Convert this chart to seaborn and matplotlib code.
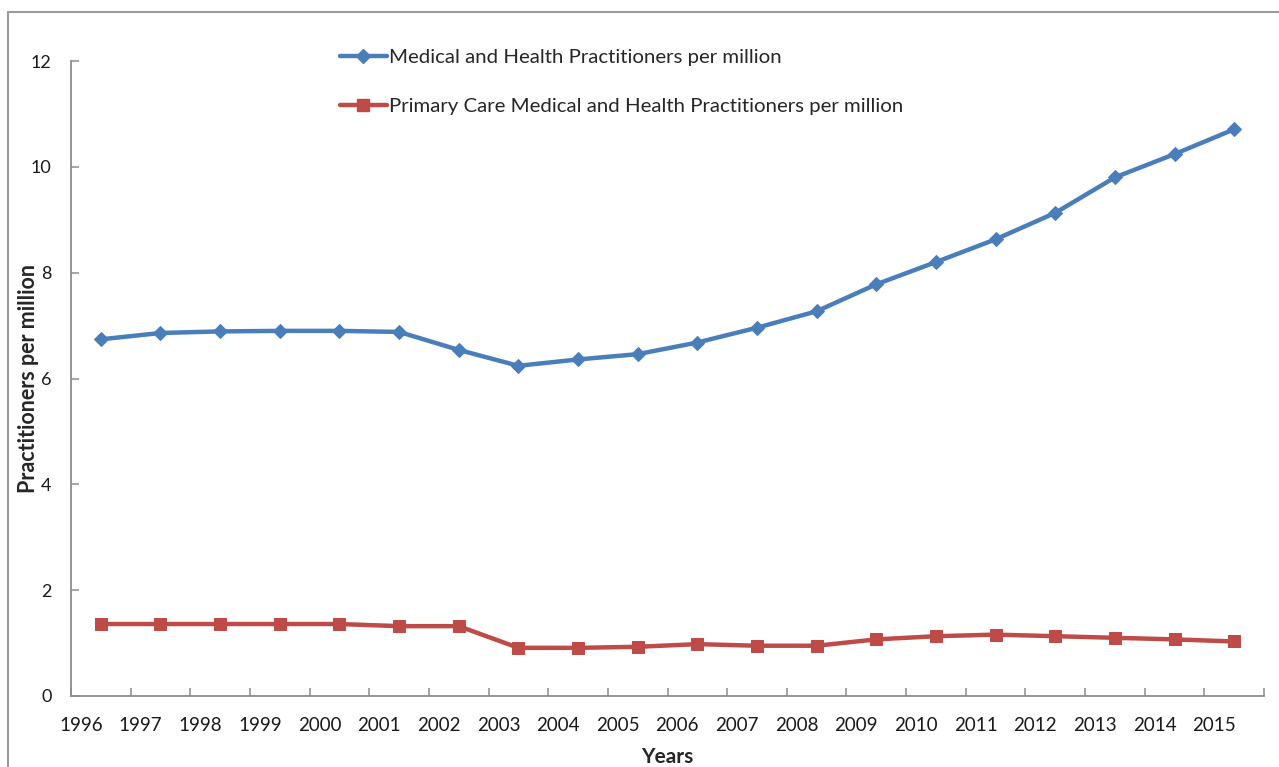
import matplotlib
matplotlib.use("Agg")
import matplotlib.pyplot as plt
import matplotlib.transforms as mtransforms
from matplotlib.lines import Line2D
import seaborn as sns
import pandas as pd
import numpy as np

years = ["1996", "1997", "1998", "1999", "2000", "2001", "2002", "2003", "2004", "2005",
         "2006", "2007", "2008", "2009", "2010", "2011", "2012", "2013", "2014", "2015"]
total_practitioners = [6.74, 6.86, 6.89, 6.90, 6.90, 6.88, 6.54, 6.24, 6.36, 6.46,
                       6.68, 6.96, 7.27, 7.78, 8.20, 8.63, 9.13, 9.80, 10.24, 10.71]
primary_care = [1.36, 1.36, 1.36, 1.36, 1.36, 1.32, 1.32, 0.91, 0.91, 0.93,
                0.98, 0.95, 0.95, 1.07, 1.13, 1.16, 1.13, 1.10, 1.07, 1.03]
series_names = ["Medical and Health Practitioners per million",
                "Primary Care Medical and Health Practitioners per million"]
y_ticks = [0, 2, 4, 6, 8, 10, 12]

sns.set_theme(style="white")
plt.rcParams['font.family'] = ['Lato', 'DejaVu Sans']

df = pd.DataFrame({
    "pos": list(range(len(years))) * 2,
    "value": total_practitioners + primary_care,
    "series": [series_names[0]] * len(years) + [series_names[1]] * len(years),
})

fig = plt.figure(figsize=(12.79, 7.67), dpi=100)
ax = fig.add_axes([71 / 1279, 1 - 696 / 767, 1193 / 1279, 635 / 767])

blue = "#4A7EBB"
red = "#BE4B48"
sns.lineplot(data=df[df.series == series_names[0]], x="pos", y="value", ax=ax,
             color=blue, linewidth=3.2, marker="D", markersize=7.5,
             markeredgecolor=blue, label=series_names[0], legend=False)
sns.lineplot(data=df[df.series == series_names[1]], x="pos", y="value", ax=ax,
             color=red, linewidth=3.2, marker="s", markersize=8,
             markeredgecolor=red, label=series_names[1], legend=False)

ax.set_xlim(-0.5, len(years) - 0.5)
ax.set_ylim(0, 12)
ax.set_yticks(y_ticks)
ax.set_yticklabels([str(t) for t in y_ticks])
ax.set_xticks(range(len(years)))
ax.set_xticklabels(years)
ax.set_xticks(np.arange(-0.5, len(years), 1.0), minor=True)

for s in ["top", "right"]:
    ax.spines[s].set_visible(False)
for s in ["left", "bottom"]:
    ax.spines[s].set_color("#8C8C8C")
    ax.spines[s].set_linewidth(1.3)

ax.tick_params(axis="x", which="major", length=0, pad=15, labelsize=13.5, labelcolor="#1a1a1a")
ax.tick_params(axis="x", which="minor", direction="in", length=6, width=1.1, color="#8C8C8C", bottom=True)
ax.tick_params(axis="y", which="major", direction="in", length=6, width=1.1, color="#8C8C8C",
               left=True, pad=14, labelsize=13, labelcolor="#1a1a1a")

offset = mtransforms.ScaledTranslation(-20 / 100, 0, fig.dpi_scale_trans)
for lbl in ax.get_xticklabels():
    lbl.set_transform(lbl.get_transform() + offset)

ax.set_xlabel("Years", fontsize=15, fontweight="bold")
ax.xaxis.set_label_coords(0.5, -(757 - 696) / 635)
ax.xaxis.label.set_va("center")
ax.set_ylabel("Practitioners per million", fontsize=15.5, fontweight="bold")
ax.yaxis.set_label_coords(-(71 - 29) / 1193, 0.5)
ax.yaxis.label.set_va("center")
ax.grid(False)

handles = [
    Line2D([], [], color=blue, linewidth=3.2, marker="D", markersize=7),
    Line2D([], [], color=red, linewidth=3.2, marker="s", markersize=8),
]
fig.legend(handles, series_names, loc="upper left", bbox_to_anchor=(340 / 1279, 1 - 49 / 767),
           frameon=False, fontsize=14.7, handlelength=2.3, handletextpad=0.12,
           labelspacing=1.55, borderpad=0, borderaxespad=0)

# outer frame of the figure panel
fig.add_artist(Line2D([8 / 1279, 1], [1 - 12 / 767, 1 - 12 / 767], transform=fig.transFigure,
                      color="#9A9A9A", linewidth=1.5))
fig.add_artist(Line2D([8 / 1279, 8 / 1279], [0, 1 - 12 / 767], transform=fig.transFigure,
                      color="#9A9A9A", linewidth=1.5))

fig.savefig("out.png", dpi=100)
